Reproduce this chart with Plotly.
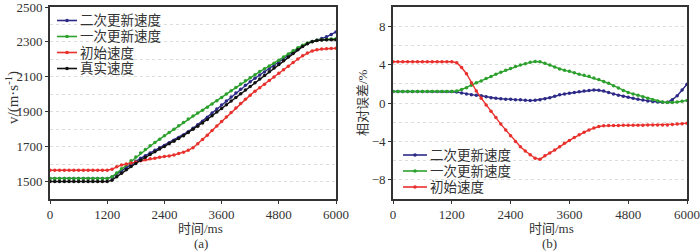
import plotly.graph_objects as go

# time samples (ms)
t = list(range(0, 6001, 100))

# ---- panel (a): velocity (m/s) ----
v_true = [1500, 1500, 1500, 1500, 1500, 1500, 1500, 1500, 1500, 1500, 1500, 1500, 1500,
          1508, 1528, 1548, 1567, 1586, 1604, 1622, 1639, 1655, 1671,
          1686, 1701, 1716, 1731, 1747, 1763, 1781, 1799, 1817, 1836,
          1856, 1877, 1898, 1919, 1940, 1961, 1982, 2003, 2024, 2045,
          2066, 2087, 2108, 2129, 2150, 2171, 2192, 2213, 2234, 2255,
          2273, 2289, 2301, 2308, 2311, 2312, 2312, 2312]
v_second = [1518, 1518, 1518, 1518, 1518, 1518, 1518, 1518, 1518, 1518, 1518, 1518, 1518,
            1525, 1544, 1563, 1580, 1599, 1616, 1633, 1648, 1663, 1679,
            1693, 1707, 1722, 1737, 1752, 1767, 1786, 1805, 1825, 1846,
            1869, 1893, 1916, 1939, 1961, 1984, 2007, 2029, 2051, 2072,
            2092, 2110, 2128, 2146, 2165, 2184, 2203, 2221, 2241, 2260,
            2276, 2291, 2303, 2310, 2319, 2329, 2343, 2357]
v_first = [1518, 1518, 1518, 1518, 1518, 1518, 1518, 1518, 1518, 1518, 1518, 1518, 1518,
           1527, 1549, 1573, 1596, 1619, 1641, 1663, 1684, 1705, 1724,
           1743, 1762, 1781, 1799, 1819, 1838, 1858, 1876, 1892, 1909,
           1926, 1944, 1963, 1982, 2001, 2020, 2039, 2059, 2077, 2095,
           2112, 2130, 2146, 2162, 2178, 2195, 2213, 2231, 2249, 2266,
           2281, 2294, 2303, 2309, 2312, 2314, 2316, 2318]
v_init = [1565, 1565, 1565, 1565, 1565, 1565, 1565, 1565, 1565, 1565, 1565, 1565, 1565,
          1571, 1585, 1595, 1600, 1606, 1612, 1619, 1625, 1630, 1634,
          1639, 1643, 1647, 1652, 1660, 1668, 1679, 1694, 1717, 1741,
          1765, 1792, 1818, 1844, 1870, 1896, 1922, 1947, 1971, 1995,
          2017, 2038, 2058, 2079, 2099, 2120, 2141, 2161, 2182, 2202,
          2220, 2236, 2248, 2255, 2259, 2261, 2262, 2263]

# ---- panel (b): relative error (%) ----
err_second = [1.2, 1.2, 1.2, 1.2, 1.2, 1.2, 1.2, 1.2, 1.2, 1.2, 1.2, 1.2, 1.2,
              1.15, 1.05, 0.95, 0.85, 0.8, 0.75, 0.65, 0.55, 0.5, 0.45,
              0.4, 0.38, 0.35, 0.33, 0.28, 0.25, 0.28, 0.35, 0.45, 0.55,
              0.7, 0.85, 0.95, 1.02, 1.1, 1.18, 1.25, 1.3, 1.35, 1.33,
              1.25, 1.1, 0.95, 0.82, 0.7, 0.6, 0.5, 0.38, 0.3, 0.22,
              0.15, 0.1, 0.07, 0.08, 0.35, 0.75, 1.35, 1.95]
err_first = [1.2, 1.2, 1.2, 1.2, 1.2, 1.2, 1.2, 1.2, 1.2, 1.2, 1.2, 1.2, 1.2,
             1.25, 1.4, 1.6, 1.85, 2.1, 2.3, 2.55, 2.75, 3.0, 3.2,
             3.4, 3.6, 3.8, 3.95, 4.1, 4.25, 4.32, 4.3, 4.15, 3.95,
             3.75, 3.55, 3.4, 3.3, 3.15, 3.0, 2.9, 2.78, 2.6, 2.45,
             2.25, 2.05, 1.8, 1.55, 1.3, 1.1, 0.95, 0.8, 0.65, 0.5,
             0.35, 0.2, 0.1, 0.05, 0.05, 0.1, 0.18, 0.27]
err_init = [4.3, 4.3, 4.3, 4.3, 4.3, 4.3, 4.3, 4.3, 4.3, 4.3, 4.3, 4.3, 4.3,
            4.2, 3.7, 3.05, 2.1, 1.25, 0.5, -0.2, -0.85, -1.5, -2.2,
            -2.8, -3.4, -4.0, -4.55, -5.0, -5.4, -5.75, -5.85, -5.5, -5.2,
            -4.9, -4.55, -4.2, -3.9, -3.6, -3.3, -3.05, -2.8, -2.6, -2.45,
            -2.38, -2.35, -2.35, -2.34, -2.33, -2.33, -2.32, -2.32, -2.31, -2.3,
            -2.3, -2.3, -2.29, -2.28, -2.25, -2.2, -2.15, -2.1]

names = ["二次更新速度", "一次更新速度", "初始速度", "真实速度"]
colors = ["#2d2a87", "#2ca02c", "#e8302c", "#111111"]
y_ticks_a = [1500, 1700, 1900, 2100, 2300, 2500]
x_ticks = [0, 1200, 2400, 3600, 4800, 6000]
y_ticks_b = [-8, -4, 0, 4, 8]

W, H = 700, 251
FONT = "Liberation Serif, Noto Sans CJK SC, serif"
TXT = "#333333"

fig = go.Figure()

left_series = [v_second, v_first, v_init, v_true]
for nm, col, ys in zip(names, colors, left_series):
    fig.add_trace(go.Scatter(x=t, y=ys, name=nm, mode="lines+markers",
                             line=dict(color=col, width=1.4),
                             marker=dict(color=col, size=3.5),
                             xaxis="x", yaxis="y", showlegend=False))

right_series = [err_second, err_first, err_init]
for nm, col, ys in zip(names[:3], colors[:3], right_series):
    fig.add_trace(go.Scatter(x=t, y=ys, name=nm, mode="lines+markers",
                             line=dict(color=col, width=1.4),
                             marker=dict(color=col, size=3.5),
                             xaxis="x2", yaxis="y2", showlegend=False))

ydom = [1 - 199 / H, 1 - 7 / H]
axis_common = dict(showline=True, linecolor="#333333", linewidth=1.6, mirror=True,
                   ticks="outside", ticklen=3, tickcolor="#333333", automargin=False,
                   ticklabeloverflow="allow",
                   tickfont=dict(family=FONT, size=13, color=TXT), zeroline=False)

fig.update_layout(
    width=W, height=H,
    margin=dict(l=0, r=0, t=0, b=0, autoexpand=False),
    paper_bgcolor="white", plot_bgcolor="white",
    font=dict(family=FONT, color=TXT),
    showlegend=False,
    xaxis=dict(domain=[50 / W, 336 / W], range=[0, 6000], tickvals=x_ticks,
               showgrid=False, anchor="y", **axis_common),
    yaxis=dict(domain=ydom, range=[1400, 2500], tickvals=y_ticks_a,
               showgrid=True, gridcolor="#dddddd", griddash="dot", gridwidth=1,
               minor=dict(dtick=100, tick0=1500, showgrid=True, gridcolor="#dddddd",
                          griddash="dot", ticks=""),
               anchor="x", **axis_common),
    xaxis2=dict(domain=[393 / W, 687 / W], range=[0, 6000], tickvals=x_ticks,
                showgrid=False, anchor="y2", **axis_common),
    yaxis2=dict(domain=ydom, range=[-10, 10], tickvals=y_ticks_b,
                ticktext=["\u22128", "\u22124", "0", "4", "8"],
                showgrid=True, gridcolor="#dddddd", griddash="dot", gridwidth=1,
                minor=dict(dtick=2, tick0=0, showgrid=True, gridcolor="#dddddd",
                           griddash="dot", ticks=""),
                anchor="x2", **axis_common),
)

ann_font = dict(family=FONT, size=13, color=TXT)
anns = [
    dict(text="时间/ms", x=200 / W, y=1 - 228 / H),
    dict(text="(a)", x=201 / W, y=1 - 243.5 / H),
    dict(text="时间/ms", x=551 / W, y=1 - 228 / H),
    dict(text="(b)", x=549 / W, y=1 - 243.5 / H),
    dict(text="v/(m·s<sup>-1</sup>)", x=12 / W, y=1 - 98 / H, textangle=-90,
         font=dict(family=FONT, size=15, color=TXT)),
    dict(text="相对误差/%", x=362 / W, y=1 - 103 / H, textangle=-90),
]
for a in anns:
    f = a.pop("font", ann_font)
    fig.add_annotation(xref="paper", yref="paper", showarrow=False,
                       xanchor="center", yanchor="middle", font=f, **a)


# legends (drawn as keys: short line + dot + label)
def add_key(x0, x1, xt, y, col, label):
    fig.add_shape(type="line", xref="paper", yref="paper",
                  x0=x0 / W, x1=x1 / W, y0=1 - y / H, y1=1 - y / H,
                  line=dict(color=col, width=1.6))
    xm = (x0 + x1) / 2
    fig.add_shape(type="circle", xref="paper", yref="paper",
                  x0=(xm - 1.8) / W, x1=(xm + 1.8) / W,
                  y0=1 - (y + 1.8) / H, y1=1 - (y - 1.8) / H,
                  line=dict(color=col, width=0), fillcolor=col)
    fig.add_annotation(xref="paper", yref="paper", showarrow=False, text=label,
                       x=xt / W, y=1 - y / H, xanchor="left", yanchor="middle",
                       font=dict(family=FONT, size=13.5, color=TXT))


left_rows = [20.5, 36.5, 52.5, 68.5]
for nm, col, yy in zip(names, colors, left_rows):
    add_key(57, 77, 78, yy, col, nm)

right_rows = [155, 171, 187]
for nm, col, yy in zip(names[:3], colors[:3], right_rows):
    add_key(403, 427, 428, yy, col, nm)

fig.write_html("out.html", config={"displayModeBar": False},
               post_script="document.body.style.margin='0';document.body.style.overflow='hidden';")
